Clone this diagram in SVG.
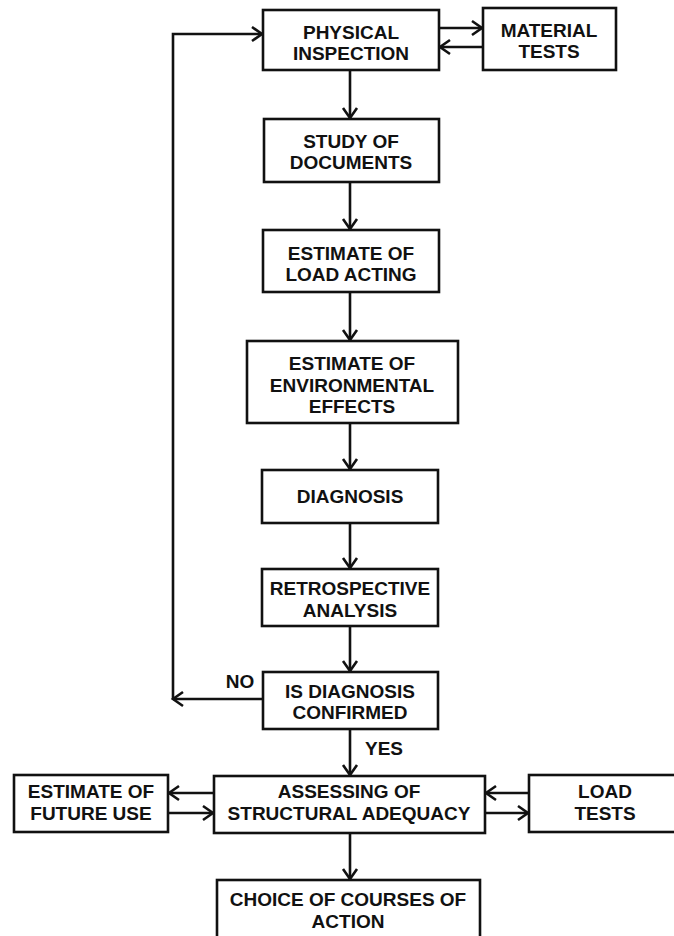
<svg xmlns="http://www.w3.org/2000/svg" width="674" height="936" viewBox="0 0 674 936">
<style>
.box{fill:#fff;stroke:#111;stroke-width:2.6}
.t{font-family:"Liberation Sans",Arial,sans-serif;font-weight:bold;font-size:19px;fill:#111;text-anchor:middle}
.c{fill:none;stroke:#111;stroke-width:2.6}
</style>
<defs>
<marker id="a" markerUnits="userSpaceOnUse" markerWidth="16" markerHeight="18" viewBox="0 0 16 18" refX="13" refY="9" orient="auto">
<path d="M3,2 L13,9 L3,16" fill="none" stroke="#111" stroke-width="2.6"/>
</marker>
</defs>
<rect width="674" height="936" fill="#fff"/>
<g id="connectors">
<line class="c" x1="350" y1="70" x2="350" y2="118" marker-end="url(#a)"/>
<line class="c" x1="350" y1="182" x2="350" y2="229" marker-end="url(#a)"/>
<line class="c" x1="350" y1="292" x2="350" y2="340" marker-end="url(#a)"/>
<line class="c" x1="350" y1="423" x2="350" y2="469" marker-end="url(#a)"/>
<line class="c" x1="350" y1="523" x2="350" y2="568" marker-end="url(#a)"/>
<line class="c" x1="350" y1="626" x2="350" y2="671" marker-end="url(#a)"/>
<line class="c" x1="350" y1="729" x2="350" y2="775" marker-end="url(#a)"/>
<line class="c" x1="350" y1="833" x2="350" y2="879" marker-end="url(#a)"/>
<line class="c" x1="439" y1="28" x2="482" y2="28" marker-end="url(#a)"/>
<line class="c" x1="483" y1="47" x2="440" y2="47" marker-end="url(#a)"/>
<line class="c" x1="263" y1="699" x2="173" y2="699" marker-end="url(#a)"/>
<polyline class="c" points="173,699 173,34 262,34" marker-end="url(#a)"/>
<line class="c" x1="214" y1="793" x2="169" y2="793" marker-end="url(#a)"/>
<line class="c" x1="168" y1="813" x2="213" y2="813" marker-end="url(#a)"/>
<line class="c" x1="529" y1="793" x2="486" y2="793" marker-end="url(#a)"/>
<line class="c" x1="485" y1="813" x2="528" y2="813" marker-end="url(#a)"/>
<text class="t" x="240" y="688">NO</text>
<text class="t" x="384" y="755">YES</text>
</g>
<g id="physical"><rect class="box" x="263" y="10" width="176" height="60"/><text class="t" x="351" y="39">PHYSICAL</text><text class="t" x="351" y="60">INSPECTION</text></g>
<g id="material"><rect class="box" x="483" y="8" width="133" height="62"/><text class="t" x="549" y="37">MATERIAL</text><text class="t" x="549" y="58">TESTS</text></g>
<g id="study"><rect class="box" x="264" y="119" width="175" height="63"/><text class="t" x="351" y="148">STUDY OF</text><text class="t" x="351" y="169">DOCUMENTS</text></g>
<g id="load-acting"><rect class="box" x="263" y="230" width="176" height="62"/><text class="t" x="351" y="260">ESTIMATE OF</text><text class="t" x="351" y="281">LOAD ACTING</text></g>
<g id="environmental"><rect class="box" x="247" y="341" width="211" height="82"/><text class="t" x="352" y="370">ESTIMATE OF</text><text class="t" x="352" y="392">ENVIRONMENTAL</text><text class="t" x="352" y="413">EFFECTS</text></g>
<g id="diagnosis"><rect class="box" x="262" y="470" width="176" height="53"/><text class="t" x="350" y="503">DIAGNOSIS</text></g>
<g id="retrospective"><rect class="box" x="262" y="569" width="176" height="57"/><text class="t" x="350" y="595">RETROSPECTIVE</text><text class="t" x="350" y="617">ANALYSIS</text></g>
<g id="confirmed"><rect class="box" x="263" y="672" width="175" height="57"/><text class="t" x="350" y="698">IS DIAGNOSIS</text><text class="t" x="350" y="719">CONFIRMED</text></g>
<g id="assessing"><rect class="box" x="214" y="776" width="271" height="57"/><text class="t" x="349" y="798">ASSESSING OF</text><text class="t" x="349" y="820">STRUCTURAL ADEQUACY</text></g>
<g id="future-use"><rect class="box" x="14" y="775" width="154" height="57"/><text class="t" x="91" y="798">ESTIMATE OF</text><text class="t" x="91" y="820">FUTURE USE</text></g>
<g id="load-tests"><rect class="box" x="529" y="775" width="160" height="57"/><text class="t" x="605" y="798">LOAD</text><text class="t" x="605" y="820">TESTS</text></g>
<g id="choice"><rect class="box" x="217" y="880" width="263" height="70"/><text class="t" x="348" y="906">CHOICE OF COURSES OF</text><text class="t" x="348" y="928">ACTION</text></g>
</svg>
